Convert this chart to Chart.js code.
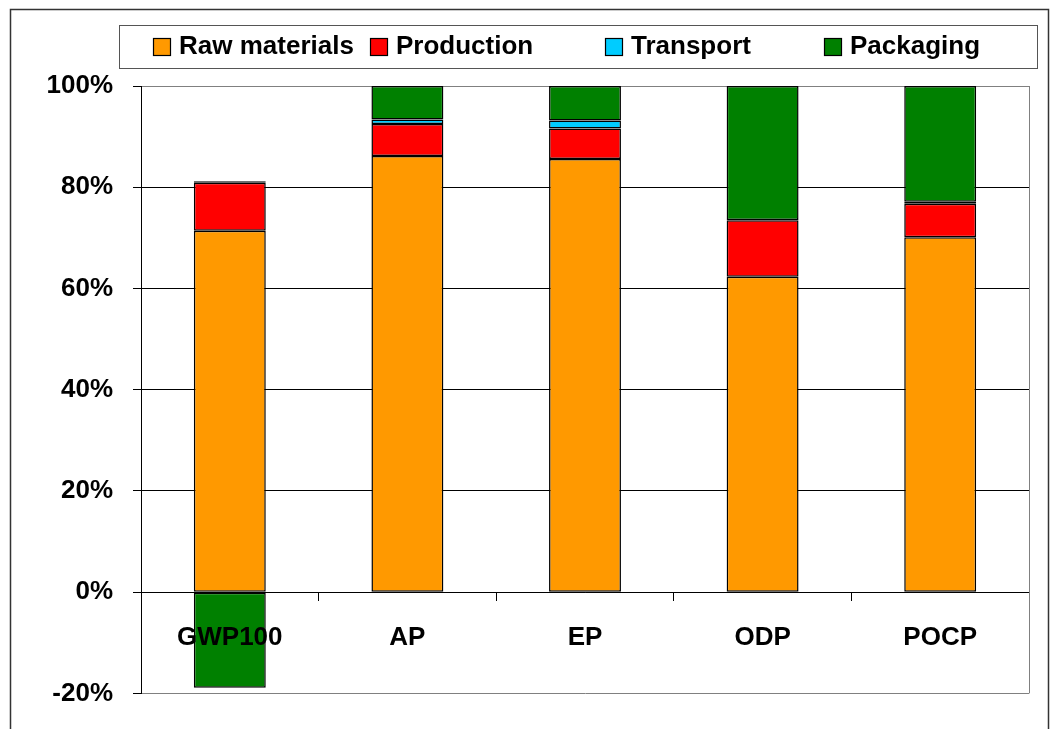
<!DOCTYPE html>
<html>
<head>
<meta charset="utf-8">
<script src="https://cdn.jsdelivr.net/npm/chart.js@4.4.1/dist/chart.umd.min.js"></script>
<style>
  html, body { margin: 0; padding: 0; background: #fff; }
  #wrap { position: relative; width: 1051px; height: 729px; }
</style>
</head>
<body>
<div id="wrap"><canvas id="chart"></canvas></div>
<script>
// chart values (percent)
const categories = ["GWP100", "AP", "EP", "ODP", "POCP"];
const rawMaterials = [71.4, 86.15, 85.6, 62.3, 70.1];
const production = [9.5, 6.35, 6.0, 11.2, 6.65];
const transport = [0.3, 0.9, 1.6, 0.05, 0.4];
const packaging = [-18.9, 6.6, 6.8, 26.45, 22.85];
const yTicks = [-20, 0, 20, 40, 60, 80, 100];

const FONT = "'Liberation Sans', Arial, sans-serif";

// legend item left edges (excel puts them unevenly)
const legendX = [153, 370, 605, 824];

const framePlugin = {
  id: "frame",
  beforeDatasetsDraw(chart) {
    const { ctx, chartArea } = chart;
    ctx.save();
    ctx.strokeStyle = "#808080";
    ctx.lineWidth = 1;
    ctx.beginPath();
    ctx.moveTo(chartArea.right + 0.5, chartArea.top);
    ctx.lineTo(chartArea.right + 0.5, chartArea.bottom);
    ctx.stroke();
    ctx.restore();
  },
  afterDraw(chart) {
    const { ctx } = chart;
    ctx.save();
    // outer frame
    ctx.strokeStyle = "#333";
    ctx.lineWidth = 1.5;
    ctx.strokeRect(10.5, 9.5, 1038, 740);
    // legend box
    ctx.strokeStyle = "#555";
    ctx.lineWidth = 1;
    ctx.strokeRect(119.5, 25.5, 918, 43);
    ctx.font = "bold 26px " + FONT;
    ctx.textBaseline = "middle";
    chart.data.datasets.forEach((ds, i) => {
      const x = legendX[i];
      ctx.fillStyle = ds.backgroundColor;
      ctx.fillRect(x, 38, 17, 17);
      ctx.strokeStyle = "#000";
      ctx.lineWidth = 1.2;
      ctx.strokeRect(x + 0.5, 38.5, 17, 17);
      ctx.fillStyle = "#000";
      ctx.fillText(ds.label, x + 26, 47);
    });
    ctx.restore();
  }
};

function makeSet(label, data, color) {
  return {
    label: label,
    data: data,
    backgroundColor: color,
    borderColor: "#000",
    borderWidth: 1.5,
    borderSkipped: false,
    categoryPercentage: 1.0,
    barPercentage: 0.405
  };
}

new Chart(document.getElementById("chart"), {
  type: "bar",
  data: {
    labels: categories,
    datasets: [
      makeSet("Raw materials", rawMaterials, "#FF9900"),
      makeSet("Production", production, "#FF0000"),
      makeSet("Transport", transport, "#00CCFF"),
      makeSet("Packaging", packaging, "#008000")
    ]
  },
  options: {
    responsive: true,
    maintainAspectRatio: false,
    animation: false,
    layout: { padding: { left: 0, top: 86, right: 22, bottom: 33 } },
    plugins: {
      legend: { display: false },
      tooltip: { enabled: false }
    },
    scales: {
      x: {
        stacked: true,
        position: { y: 0 },
        grid: {
          offset: true,
          drawOnChartArea: false,
          drawTicks: true,
          tickLength: 8,
          color: "#000"
        },
        border: { color: "#000", width: 1 },
        ticks: {
          z: 1, // labels sit on top of the negative bar
          color: "#000",
          padding: 22,
          font: { family: FONT, size: 26, weight: "bold" }
        }
      },
      y: {
        stacked: true,
        min: -20,
        max: 100,
        afterBuildTicks(scale) {
          scale.ticks = yTicks.map(v => ({ value: v }));
        },
        afterFit(scale) {
          scale.width = 141;
        },
        grid: {
          color: ctx => (ctx.tick && (ctx.tick.value === 100 || ctx.tick.value === -20)) ? "#808080" : "#000",
          tickColor: "#000",
          tickLength: 8,
          lineWidth: 1
        },
        border: { color: "#000", width: 1 },
        ticks: {
          color: "#000",
          padding: 20,
          font: { family: FONT, size: 26, weight: "bold" },
          callback: v => v + "%"
        }
      }
    }
  },
  plugins: [framePlugin]
});
</script>
</body>
</html>
